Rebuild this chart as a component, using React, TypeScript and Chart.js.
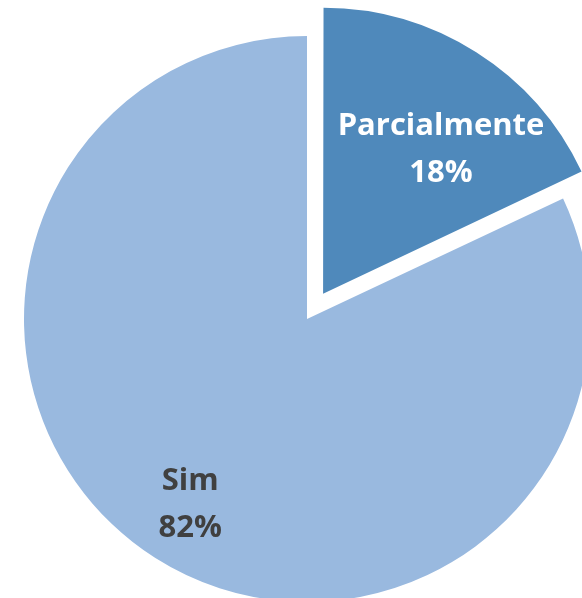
import React, { useEffect, useRef } from "react";
import { Chart, registerables } from "chart.js";

Chart.register(...registerables);

const categories = ["Parcialmente", "Sim"];
const values = [18, 82];
const percentLabels = ["18%", "82%"];
const sliceColors = ["#4F89BB", "#99B9DF"];
const labelColors = ["#FFFFFF", "#404040"];
const sliceOffsets = [120, 0];
// label placement: fraction of radius along slice mid-angle, plus angular nudge (deg)
const labelRadiusFraction = [0.655, 0.77];
const labelAngleNudge = [6.5, 0];

const labelPlugin = {
  id: "sliceLabels",
  afterDatasetsDraw(chart: any) {
    const ctx = chart.ctx;
    const meta = chart.getDatasetMeta(0);
    ctx.save();
    ctx.font = "bold 31px 'Open Sans', Lato, sans-serif";
    ctx.textAlign = "center";
    ctx.textBaseline = "alphabetic";
    meta.data.forEach((arc: any, i: number) => {
      const p = arc.getProps(["x", "y", "startAngle", "endAngle", "outerRadius", "circumference"], true);
      const mid = (p.startAngle + p.endAngle) / 2;
      const off = (sliceOffsets[i] || 0) / 4;
      const fix = 1 - Math.sin(Math.min(Math.PI, p.circumference || 0));
      const t = off * (1 + fix);
      const cx = p.x + Math.cos(mid) * t;
      const cy = p.y + Math.sin(mid) * t;
      const a = mid + (labelAngleNudge[i] * Math.PI) / 180;
      const r = p.outerRadius * labelRadiusFraction[i];
      const lx = cx + Math.cos(a) * r;
      const ly = cy + Math.sin(a) * r;
      ctx.fillStyle = labelColors[i];
      const capHalf = 11;
      ctx.fillText(categories[i], lx, ly - 23.5 + capHalf);
      ctx.fillText(percentLabels[i], lx, ly + 23.5 + capHalf);
    });
    ctx.restore();
  },
};

export default function App() {
  const canvasRef = useRef<HTMLCanvasElement | null>(null);

  useEffect(() => {
    const canvas = canvasRef.current;
    if (!canvas) return;
    const chart = new Chart(canvas, {
      type: "pie",
      data: {
        labels: categories,
        datasets: [
          {
            data: values,
            backgroundColor: sliceColors,
            borderWidth: 0,
            offset: sliceOffsets,
          },
        ],
      },
      options: {
        responsive: false,
        animation: false,
        radius: 283,
        layout: { padding: 0 },
        plugins: {
          legend: { display: false },
          tooltip: { enabled: false },
        },
      },
      plugins: [labelPlugin],
    });
    return () => chart.destroy();
  }, []);

  return (
    <div
      style={{
        position: "fixed",
        left: 0,
        top: 0,
        width: 582,
        height: 598,
        overflow: "hidden",
        background: "#ffffff",
      }}
    >
      <canvas ref={canvasRef} width={614} height={638} style={{ display: "block", width: 614, height: 638 }} />
    </div>
  );
}
